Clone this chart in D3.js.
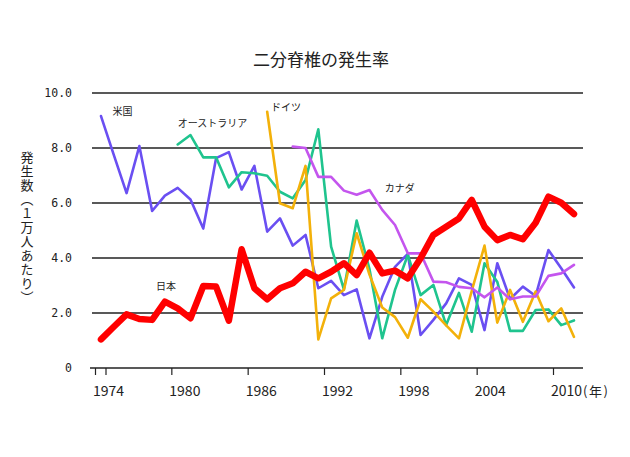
<!DOCTYPE html>
<html>
<head>
<meta charset="utf-8">
<script src="https://cdn.jsdelivr.net/npm/d3@7"></script>
<style>
  body { margin: 0; background: #fff; }
  text { font-family: "Noto Sans CJK JP", "Noto Sans", sans-serif; fill: #222; }
  .tick-num { font-family: "DejaVu Sans Mono", monospace; }
  .year { font-family: "Liberation Sans Narrow", "Noto Sans CJK JP", sans-serif; }
</style>
</head>
<body>
<div id="container"></div>
<script>
// years on the x axis, one point per year
var years = [1974, 1975, 1976, 1977, 1978, 1979, 1980, 1981, 1982, 1983,
  1984, 1985, 1986, 1987, 1988, 1989, 1990, 1991, 1992, 1993,
  1994, 1995, 1996, 1997, 1998, 1999, 2000, 2001, 2002, 2003,
  2004, 2005, 2006, 2007, 2008, 2009, 2010, 2011];

// rates per 10,000 births
var japan = [1.04, 1.50, 1.95, 1.78, 1.75, 2.41, 2.17, 1.81, 2.98, 2.96,
  1.72, 4.32, 2.90, 2.50, 2.90, 3.08, 3.50, 3.26, 3.50, 3.81,
  3.38, 4.19, 3.44, 3.54, 3.26, 3.99, 4.84, 5.14, 5.44, 6.11,
  5.14, 4.65, 4.84, 4.68, 5.28, 6.23, 6.01, 5.60];

var usa = [9.16, 7.75, 6.36, 8.07, 5.71, 6.27, 6.55, 6.13, 5.07, 7.63,
  7.85, 6.49, 7.35, 4.96, 5.44, 4.45, 4.84, 2.90, 3.17, 2.65,
  2.86, 1.08, 2.59, 3.68, 4.15, 1.20, 1.75, 2.35, 3.26, 3.02,
  1.38, 3.81, 2.51, 2.96, 2.62, 4.29, 3.63, 2.93];

var australiaStart = 1980;
var australia = [8.13, 8.47, 7.66, 7.66, 6.57, 7.12, 7.08, 6.99, 6.41, 6.17,
  6.84, 8.68, 4.41, 2.86, 5.36, 3.60, 1.08, 2.84, 4.11, 2.65,
  3.02, 1.56, 2.73, 1.32, 3.81, 3.13, 1.35, 1.35, 2.11, 2.13,
  1.56, 1.73];

var germanyStart = 1987;
var germany = [9.32, 5.99, 5.81, 7.35, 1.04, 2.53, 2.84, 4.90, 3.40, 2.20,
  1.85, 1.10, 2.50, 2.05, 1.55, 1.08, 2.80, 4.45, 1.65, 2.84,
  1.68, 2.78, 1.70, 2.17, 1.13];

var canadaStart = 1989;
var canada = [8.05, 8.00, 6.95, 6.95, 6.45, 6.30, 6.47, 5.75, 5.20, 4.17,
  4.17, 3.14, 3.12, 2.95, 2.90, 2.57, 2.93, 2.50, 2.60, 2.60,
  3.35, 3.44, 3.75];

var yTicks = [0, 2, 4, 6, 8, 10];
var xTickYears = [1974, 1980, 1986, 1992, 1998, 2004, 2010];

var width = 630;
var height = 457;

var svg = d3
  .select("#container")
  .append("svg")
  .attr("width", width)
  .attr("height", height);

var x = d3.scaleLinear().domain([1974, 2011]).range([101, 574]);
// the printed year ticks sit a little left of the data points in the original
var xLabel = d3.scaleLinear().domain([1974, 2010]).range([95.5, 553.5]);
var y = d3.scaleLinear().domain([0, 10]).range([368, 93]);

svg
  .append("text")
  .attr("x", 321)
  .attr("y", 66)
  .style("text-anchor", "middle")
  .style("font-size", "17px")
  .text("二分脊椎の発生率");

// grid lines
svg
  .append("g")
  .selectAll("line")
  .data(yTicks.filter(d => d > 0))
  .enter()
  .append("line")
  .attr("x1", 92)
  .attr("x2", 583)
  .attr("y1", d => y(d))
  .attr("y2", d => y(d))
  .attr("stroke", "#222")
  .attr("stroke-width", 1.6);

svg
  .append("g")
  .selectAll("text")
  .data(yTicks)
  .enter()
  .append("text")
  .attr("class", "tick-num")
  .attr("x", 72)
  .attr("y", d => y(d))
  .attr("dy", "0.35em")
  .style("text-anchor", "end")
  .style("font-size", "11.5px")
  .text(d => (d === 0 ? "0" : d.toFixed(1)));

// bottom axis
svg
  .append("line")
  .attr("x1", 90)
  .attr("x2", 583)
  .attr("y1", y(0))
  .attr("y2", y(0))
  .attr("stroke", "#222")
  .attr("stroke-width", 1.6);

var tickXs = xTickYears.map(d => xLabel(d));
tickXs.splice(1, 0, x(1974) + 5);

svg
  .append("g")
  .selectAll("line")
  .data(tickXs)
  .enter()
  .append("line")
  .attr("x1", d => d)
  .attr("x2", d => d)
  .attr("y1", y(0))
  .attr("y2", y(0) + 7)
  .attr("stroke", "#222")
  .attr("stroke-width", 1.2);

var yearText = svg
  .append("g")
  .selectAll("text")
  .data(xTickYears)
  .enter()
  .append("text")
  .attr("class", "year")
  .attr("x", d => xLabel(d) - 2.5)
  .attr("y", 396)
  .style("font-size", "14px")
  .text(d => d);

yearText
  .filter(d => d === 2010)
  .append("tspan")
  .style("font-family", "Noto Sans CJK JP")
  .style("font-size", "13px")
  .style("letter-spacing", "1.5px")
  .attr("dx", 1)
  .text("(年)");

svg
  .append("text")
  .attr("x", 27)
  .attr("y", 228)
  .style("writing-mode", "vertical-rl")
  .style("text-orientation", "upright")
  .style("text-anchor", "middle")
  .style("font-size", "13px")
  .style("letter-spacing", "1px")
  .text("発生数（１万人あたり）");

var line = d3
  .line()
  .defined(d => d.v != null)
  .x(d => x(d.year))
  .y(d => y(d.v));

function toPoints(values, start) {
  return values.map((v, i) => ({ year: start + i, v: v }));
}

var series = [
  { name: "米国", values: toPoints(usa, years[0]), color: "#6a4ff2", w: 2.6, lx: 1974.9, ly: 9.2 },
  { name: "オーストラリア", values: toPoints(australia, australiaStart), color: "#1fc48e", w: 2.6, lx: 1980, ly: 8.75 },
  { name: "ドイツ", values: toPoints(germany, germanyStart), color: "#f3b10a", w: 2.6, lx: 1987.3, ly: 9.33 },
  { name: "カナダ", values: toPoints(canada, canadaStart), color: "#c455ee", w: 2.6, lx: 1996.2, ly: 6.4 },
  { name: "日本", values: toPoints(japan, years[0]), color: "#ff0000", w: 6.5, lx: 1978.3, ly: 2.85 }
];

svg
  .append("g")
  .selectAll("path")
  .data(series)
  .enter()
  .append("path")
  .attr("d", d => line(d.values))
  .attr("fill", "none")
  .attr("stroke", d => d.color)
  .attr("stroke-width", d => d.w)
  .attr("stroke-linejoin", "round")
  .attr("stroke-linecap", "round");

svg
  .append("g")
  .selectAll("text")
  .data(series)
  .enter()
  .append("text")
  .attr("x", d => x(d.lx))
  .attr("y", d => y(d.ly))
  .style("font-size", "10px")
  .text(d => d.name);
</script>
</body>
</html>
